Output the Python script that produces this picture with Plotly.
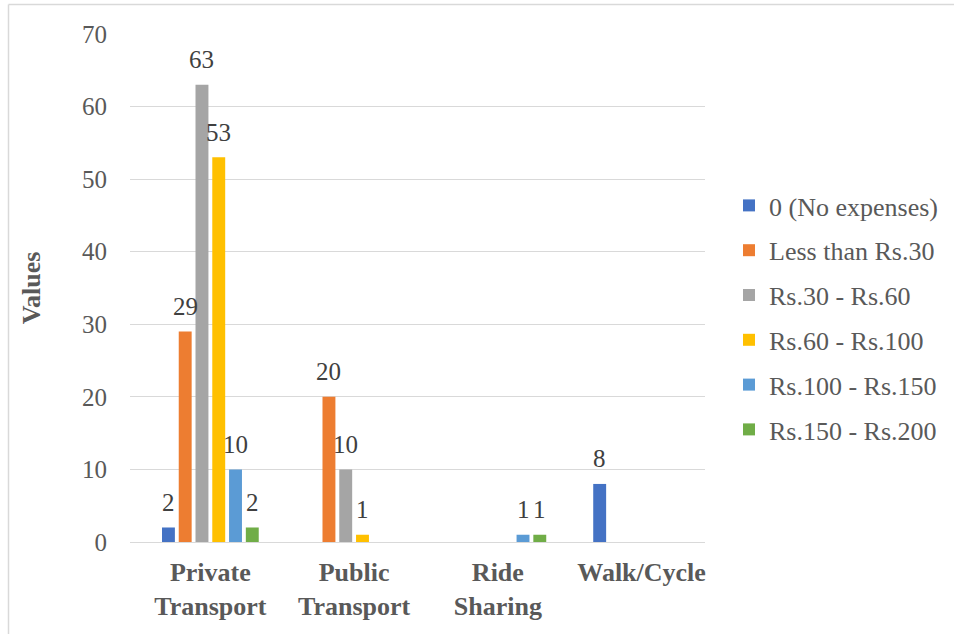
import plotly.graph_objects as go

# Travel mode categories (x axis)
categories = ["Private<br>Transport", "Public<br>Transport", "Ride<br>Sharing", "Walk/Cycle"]

# Daily travel expense bands (series)
series_names = [
    "0 (No expenses)",
    "Less than Rs.30",
    "Rs.30 - Rs.60",
    "Rs.60 - Rs.100",
    "Rs.100 - Rs.150",
    "Rs.150 - Rs.200",
]

# Respondent counts per band, ordered as categories
no_expense = [2, 0, 0, 8]
below_30 = [29, 20, 0, 0]
rs_30_60 = [63, 10, 0, 0]
rs_60_100 = [53, 1, 0, 0]
rs_100_150 = [10, 0, 1, 0]
rs_150_200 = [2, 0, 1, 0]

series_values = [no_expense, below_30, rs_30_60, rs_60_100, rs_100_150, rs_150_200]
colors = ["#4472C4", "#ED7D31", "#A5A5A5", "#FFC000", "#5B9BD5", "#70AD47"]

FONT = "Liberation Serif"
GRAY = "#595959"
BARGAP = 0.30
n_series = len(series_names)
slot = (1 - BARGAP) / n_series

fig = go.Figure()
annotations = []
for i, (name, vals, col) in enumerate(zip(series_names, series_values, colors)):
    fig.add_trace(go.Bar(
        name=name,
        x=list(range(len(categories))),
        y=vals,
        marker=dict(color=col, line=dict(width=0)),
        legendgroup=f"g{i}",
        hoverinfo="y+name",
    ))
    # value labels above each non-zero bar
    offset = (i - (n_series - 1) / 2) * slot
    for j, v in enumerate(vals):
        if v:
            annotations.append(dict(
                x=j + offset, y=v, xref="x", yref="y",
                text=str(v), showarrow=False,
                yanchor="middle", yshift=25,
                font=dict(family=FONT, size=25, color="#404040"),
            ))

# Plot area geometry in pixels, used to place the outer frame and legend
W, H = 954, 634
ML, MR, MT, MB = 130, 249, 34, 92
pw, ph = W - ML - MR, H - MT - MB

def px_x(px):
    return (px - ML) / pw

def px_y(py):
    return (H - MB - py) / ph

fig.update_layout(
    width=W,
    height=H,
    margin=dict(l=ML, r=MR, t=MT, b=MB, autoexpand=False),
    paper_bgcolor="white",
    plot_bgcolor="white",
    barmode="group",
    bargap=BARGAP,
    bargroupgap=0.23,
    font=dict(family=FONT, size=25, color=GRAY),
    showlegend=True,
    legend=dict(
        x=px_x(729),
        xanchor="left",
        y=px_y(317.5),
        yanchor="middle",
        font=dict(family=FONT, size=26, color=GRAY),
        tracegroupgap=8,
        itemwidth=30,
        bgcolor="rgba(0,0,0,0)",
    ),
    xaxis=dict(
        tickmode="array",
        tickvals=list(range(len(categories))),
        ticktext=[f"<b>{c}</b>" for c in categories],
        range=[-0.559, 3.441],
        showgrid=False,
        zeroline=False,
        showline=False,
        ticks="",
        ticklabelstandoff=12,
        tickfont=dict(family=FONT, size=26, color=GRAY),
    ),
    yaxis=dict(
        range=[0, 70],
        dtick=10,
        showgrid=True,
        gridcolor="#D9D9D9",
        gridwidth=1.3,
        zeroline=True,
        zerolinecolor="#D9D9D9",
        zerolinewidth=1.3,
        showline=False,
        ticks="",
        ticklabelstandoff=22,
        tickfont=dict(family=FONT, size=25, color=GRAY),
        title=dict(
            text="<b>Values</b>",
            font=dict(family=FONT, size=26, color=GRAY),
            standoff=33,
        ),
    ),
    annotations=annotations,
    shapes=[
        # light frame around the chart
        dict(type="line", xref="paper", yref="paper",
             x0=px_x(8.5), x1=px_x(W + 5), y0=px_y(4.5), y1=px_y(4.5),
             line=dict(color="#D9D9D9", width=1.5)),
        dict(type="line", xref="paper", yref="paper",
             x0=px_x(8.5), x1=px_x(8.5), y0=px_y(4.5), y1=px_y(H + 5),
             line=dict(color="#D9D9D9", width=1.5)),
    ],
)

fig.write_html("out.html")
